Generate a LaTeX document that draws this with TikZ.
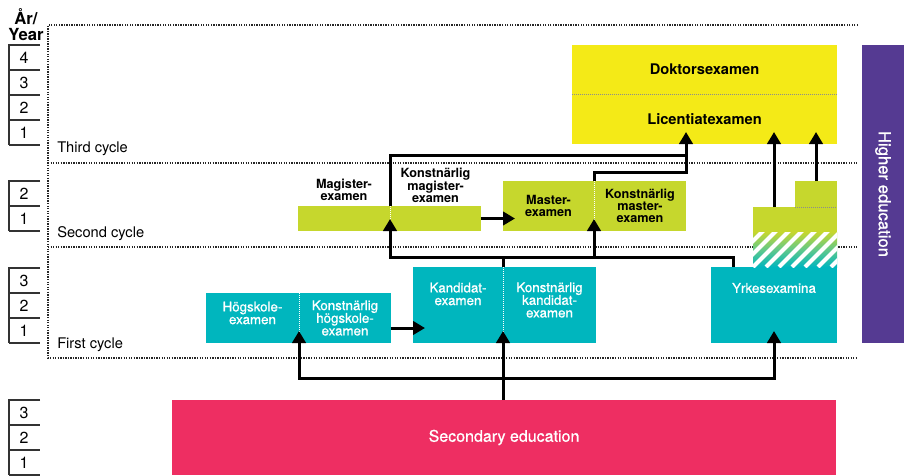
\documentclass[tikz,border=0pt]{standalone}
\usepackage{fontspec}
\setmainfont{TeX Gyre Heros}
\newfontfamily\medfont{TeX Gyre Heros}[FakeBold=0.8]
\usepackage{xcolor}
\usepackage{tikz}
\usetikzlibrary{positioning,calc,arrows.meta}

\definecolor{eduteal}{HTML}{00B6BE}
\definecolor{edulime}{HTML}{C6D72D}
\definecolor{edumid}{HTML}{62C98A}
\definecolor{eduyellow}{HTML}{F4EA17}
\definecolor{edupink}{HTML}{EE2E62}
\definecolor{edupurple}{HTML}{553A92}

\begin{document}
\begin{tikzpicture}[x=0.75pt, y=-0.75pt,
    boxsize/.style 2 args={minimum width=#1*0.75pt, minimum height=#2*0.75pt},
    cyclebox/.style={rectangle, draw=none, inner sep=0pt, outer sep=0pt},
    tealbox/.style={cyclebox, fill=eduteal},
    limebox/.style={cyclebox, fill=edulime},
    wtext/.style={text=white, align=center, inner sep=0pt, font=\medfont\fontsize{10}{9.5}\selectfont},
    btext/.style={text=black, align=center, inner sep=0pt, font=\bfseries\fontsize{9.5}{9}\selectfont},
    yearhead/.style={align=center, inner sep=0pt, font=\bfseries\fontsize{12.5}{12}\selectfont},
    yearnum/.style={inner sep=0pt, font=\fontsize{12}{12}\selectfont},
    cyclename/.style={anchor=west, inner sep=0pt, font=\fontsize{11}{11}\selectfont},
    yearline/.style={draw=black!80, line width=0.8pt},
    cycleline/.style={draw=black!85, line width=1pt, dash pattern=on 1pt off 0.9pt},
    sepw/.style={draw=white, line width=0.75pt, dash pattern=on 0.75pt off 0.75pt},
    sepd/.style={draw=black!45, line width=0.75pt, dash pattern=on 0.75pt off 0.75pt},
    wire/.style={draw, line width=2.25pt},
    arrowline/.style={wire, -{Triangle[length=9pt, width=10pt]}, shorten >=-9pt}]

    \useasboundingbox (0,0) rectangle (906,475);

    % cycle frame
    \draw[cycleline] (858,25) -- (48,25) -- (48,358) -- (858,358);
    \draw[cycleline] (48,163) -- (858,163);
    \draw[cycleline] (48,247) -- (858,247);
    \node[cyclename] (third) at (57,149) {Third cycle};
    \node[cyclename] (second) at (57,234) {Second cycle};
    \node[cyclename] (first) at (57,345) {First cycle};

    % year scales
    \node[yearhead] (yearhd) at (26,25) {År/\\Year};
    \foreach \top/\n in {45/4,181/2,268/3,400/3}{
        \draw[yearline] (40,\top) -- (9,\top) -- (9,\top+25*\n);
        \foreach \k in {1,...,\n}{
            \pgfmathtruncatemacro\yr{\n-\k+1}
            \draw[yearline] (9,\top+25*\k) -- (40,\top+25*\k);
            \node[yearnum] (yr\top-\k) at (24,\top+25*\k-12.5) {\yr};
        }
    }

    % first cycle
    \node[tealbox, boxsize={93}{50}] (hog) at (252.5,318) {};
    \node[tealbox, boxsize={92}{50}, right=0pt of hog] (khog) {};
    \node[tealbox, boxsize={90}{76}] (kand) at (458,305) {};
    \node[tealbox, boxsize={93}{76}, right=0pt of kand] (kkand) {};
    \node[tealbox, boxsize={126}{76}] (yrke) at (774,305) {};
    \draw[sepw] (hog.north east) -- (hog.south east);
    \draw[sepw] (kand.north east) -- (kand.south east);
    \node[wtext] (hogtxt) at ([yshift=3.75pt]hog.center) {Högskole-\\examen};
    \node[wtext] (khogtxt) at (khog.center) {Konstnärlig\\högskole-\\examen};
    \node[wtext] (kandtxt) at ([yshift=8.25pt]kand.center) {Kandidat-\\examen};
    \node[wtext] (kkandtxt) at ([yshift=3.75pt]kkand.center) {Konstnärlig\\kandidat-\\examen};
    \node[wtext] (yrketxt) at ([yshift=12.75pt]yrke.center) {Yrkesexamina};

    % second cycle
    \node[limebox, boxsize={92}{25}] (mag) at (344,218.5) {};
    \node[limebox, boxsize={91}{25}, right=0pt of mag] (kmag) {};
    \node[limebox, boxsize={91}{50}] (mast) at (548.5,206) {};
    \node[limebox, boxsize={92}{50}, right=0pt of mast] (kmast) {};
    \draw[sepw] (mag.north east) -- (mag.south east);
    \draw[sepw] (mast.north east) -- (mast.south east);
    \node[btext, above=3.75pt of mag] (magtxt) {Magister-\\examen};
    \node[btext, above=2.25pt of kmag] (kmagtxt) {Konstnärlig\\magister-\\examen};
    \node[btext] (masttxt) at (mast.center) {Master-\\examen};
    \node[btext] (kmasttxt) at (kmast.center) {Konstnärlig\\master-\\examen};

    \node[limebox, boxsize={84}{25}] (ylow) at (795,219.5) {};
    \node[limebox, boxsize={42}{26}, anchor=south east] (ytop) at (ylow.north east) {};
    \draw[sepd] (ytop.south west) -- (ytop.south east);
    \node[cyclebox, boxsize={84}{35}, below=0pt of ylow,
        top color=edulime, bottom color=eduteal, middle color=edumid,
        path picture={\foreach \s in {-3,...,7}
            \draw[white, line width=3pt] ([xshift=\s*9.75pt]path picture bounding box.south west) -- ++(40pt,40pt);}] (hatch) {};

    % third cycle
    \node[cyclebox, fill=eduyellow, boxsize={265}{49}, font=\bfseries\fontsize{11}{11}\selectfont] (dok) at (704.5,69.5) {Doktorsexamen};
    \node[cyclebox, fill=eduyellow, boxsize={265}{50}, font=\bfseries\fontsize{11}{11}\selectfont, below=0pt of dok] (lic) {Licentiatexamen};
    \draw[sepd] (dok.south west) -- (dok.south east);

    % secondary and higher education
    \node[cyclebox, fill=edupink, boxsize={664}{75}, text=white, font=\medfont\fontsize{12}{12}\selectfont] (sec) at (504,437.5) {Secondary education};
    \node[cyclebox, fill=edupurple, boxsize={298}{42}, rotate=-90, text=white, font=\medfont\fontsize{12.5}{12.5}\selectfont] (higher) at (883,194) {Higher education};

    % connectors
    \coordinate (lowbus) at (503,378);
    \coordinate (midbus) at (503,257);
    \coordinate (topbus) at (686,155);
    \draw[arrowline] (sec.north -| kand.south east) -- (kand.south east);
    \draw[arrowline] (lowbus) -| (hog.south east);
    \draw[arrowline] (lowbus) -| (yrke.south);
    \draw[arrowline] ([yshift=-7.5pt]khog.east) -- ([yshift=-7.5pt]khog.east -| kand.west);

    \draw[wire] (kand.north east) -- (midbus);
    \draw[wire] ([xshift=16.5pt]yrke.north west) |- (midbus);
    \draw[arrowline] (midbus) -| (mag.south east);
    \draw[arrowline] (midbus) -| (mast.south east);
    \draw[arrowline] (kmag.east) -- (kmag.east -| mast.west);

    \draw[wire] (mast.north east) -- ++(0,-9) -| (topbus);
    \draw[arrowline] (mag.north east) |- (topbus) -- (topbus |- lic.south);
    \draw[arrowline] (yrke.north |- ylow.north) -- (yrke.north |- lic.south);
    \draw[arrowline] (ytop.north) -- (ytop.north |- lic.south);
\end{tikzpicture}
\end{document}
